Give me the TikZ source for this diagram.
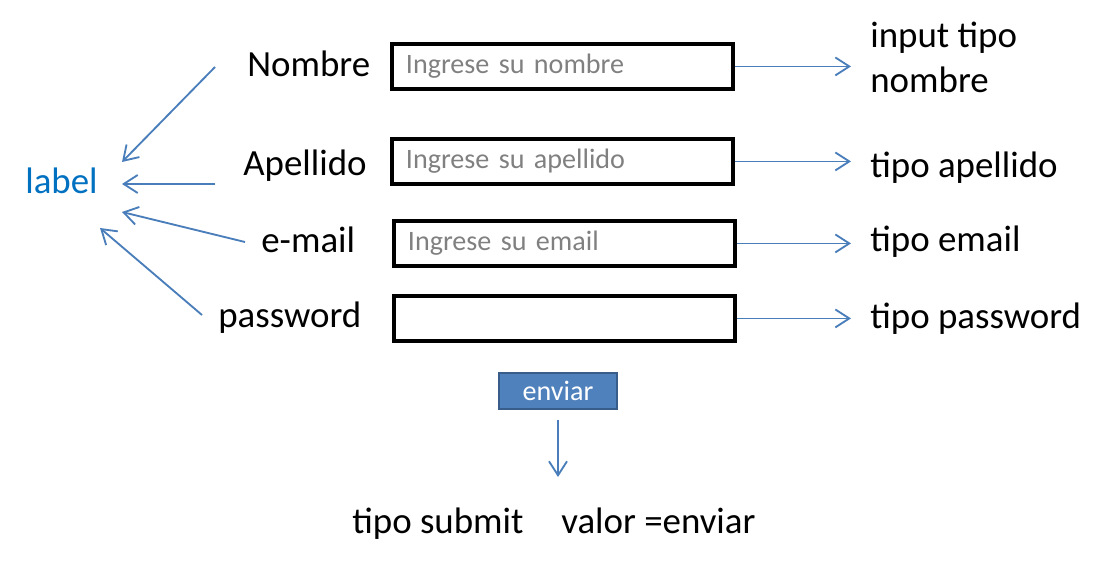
\documentclass[tikz,border=0pt]{standalone}
\usepackage{fontspec}
\setmainfont{Carlito}
\usepackage{xcolor}
\usetikzlibrary{arrows.meta, positioning, calc}
\definecolor{formBlue}{RGB}{74, 126, 187}
\definecolor{labelBlue}{RGB}{0, 112, 192}
\definecolor{buttonBlue}{RGB}{79, 129, 189}
\definecolor{buttonEdge}{RGB}{56, 93, 138}
\definecolor{hintGray}{RGB}{128, 128, 128}

\begin{document}
\begin{tikzpicture}[x=0.02cm, y=-0.02cm]
        \tikzstyle{tag} = [inner sep=0pt, anchor=base west, font=\fontsize{21}{26.1}\selectfont]
        \tikzstyle{field} = [rectangle, draw=black, line width=2.2pt, anchor=north west, text width=6.26cm, minimum height=0.9cm, inner xsep=0.28cm, align=left, text=hintGray, font=\fontsize{16}{18}\selectfont]
        \tikzstyle{arrow} = [-{Straight Barb[length=0.28cm, width=0.36cm]}, formBlue, line width=1.05pt]
        \useasboundingbox (0,0) rectangle (1114,567);

        % form labels
        \node[tag, text=labelBlue] (label) at (25,194) {label};
        \node[tag] (nombre) at (247,77) {Nombre};
        \node[tag] (apellido) at (243,176) {Apellido};
        \node[tag] (email) at (261,253) {e-mail};
        \node[tag] (password) at (218,327) {password};

        % input fields
        \node[field] (fNombre) at (390,42) {Ingrese su nombre};
        \node[field] (fApellido) at (390,137) {Ingrese su apellido};
        \node[field] (fEmail) at (392,219) {Ingrese su email};
        \node[field] (fPassword) at (392,294) {};

        % input types
        \node[tag, align=left] (tNombre) at (870,93) {input tipo\\nombre};
        \node[tag] (tApellido) at (870,178) {tipo apellido};
        \node[tag] (tEmail) at (870,252) {tipo email};
        \node[tag] (tPassword) at (870,328) {tipo password};

        % submit button
        \node[rectangle, fill=buttonBlue, draw=buttonEdge, line width=1.2pt, minimum width=2.36cm, minimum height=0.72cm, text=white, font=\fontsize{16}{18}\selectfont] (enviar) at (558,391) {enviar};
        \node[tag] (submit) at (352,533) {tipo submit};
        \node[tag] (valor) at (561,533) {valor =enviar};

        \coordinate (nombreFrom) at (215,67);
        \coordinate (nombreTo) at (122,162);
        \coordinate (apellidoFrom) at (215,184);
        \coordinate (apellidoTo) at (122,184);
        \coordinate (emailFrom) at (245,242);
        \coordinate (emailTo) at (122,212);
        \coordinate (passwordFrom) at (202,315);
        \coordinate (passwordTo) at (100,228);
        \coordinate (enviarTo) at (558,477);

        \draw[arrow] (nombreFrom) -- (nombreTo);
        \draw[arrow] (apellidoFrom) -- (apellidoTo);
        \draw[arrow] (emailFrom) -- (emailTo);
        \draw[arrow] (passwordFrom) -- (passwordTo);

        \draw[arrow, shorten >=0.38cm] (fNombre.east) -- (fNombre.east -| tNombre.west);
        \draw[arrow, shorten >=0.38cm] (fApellido.east) -- (fApellido.east -| tApellido.west);
        \draw[arrow, shorten >=0.38cm] (fEmail.east) -- (fEmail.east -| tEmail.west);
        \draw[arrow, shorten >=0.38cm] (fPassword.east) -- (fPassword.east -| tPassword.west);

        \draw[arrow, shorten <=0.2cm] (enviar.south) -- (enviarTo);
    \end{tikzpicture}
\end{document}
